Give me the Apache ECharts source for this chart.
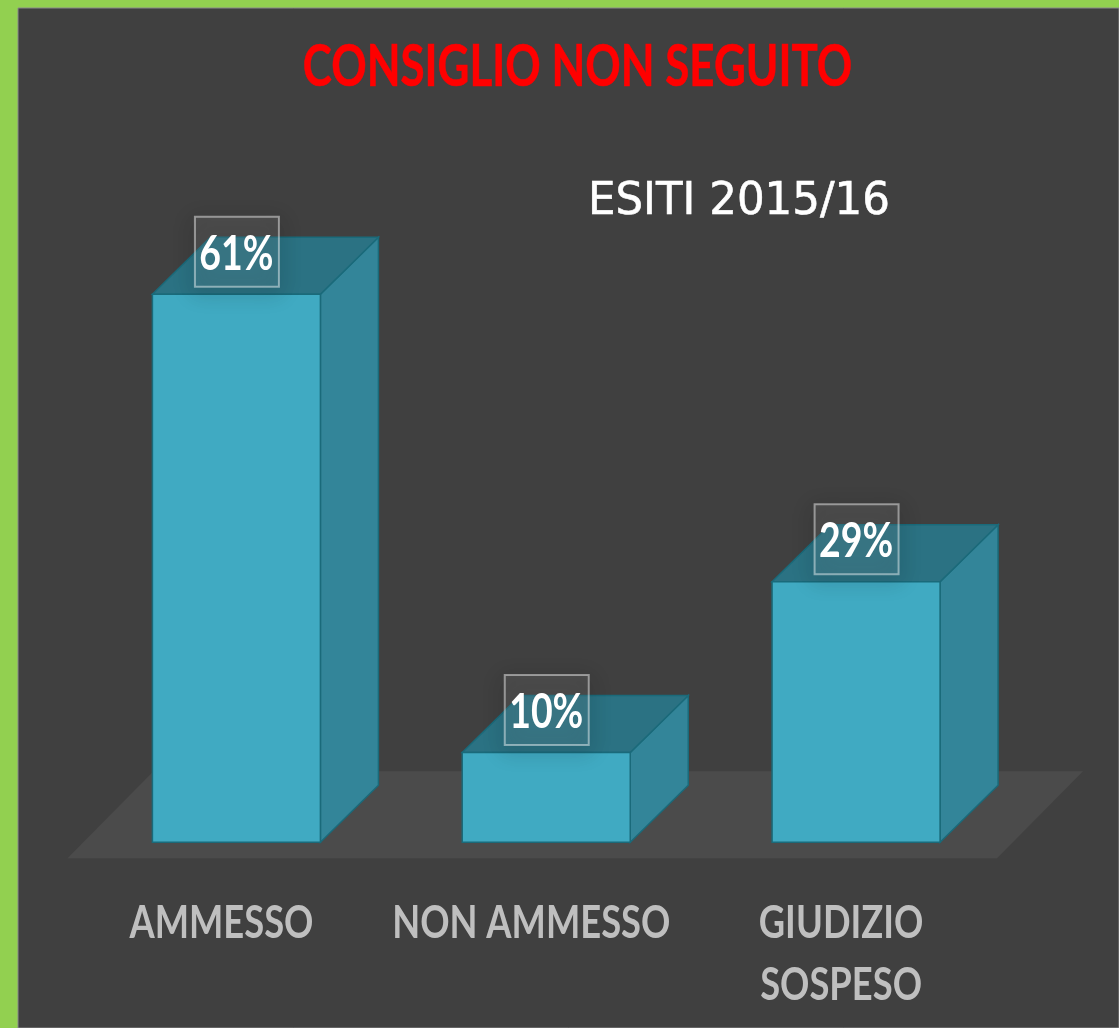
<!DOCTYPE html>
<html><head><meta charset="utf-8">
<style>html,body{margin:0;padding:0;background:#92d050;}#c{position:absolute;left:0;top:0;width:1119px;height:1028px;}</style>
<script src="https://cdn.jsdelivr.net/npm/echarts@6/dist/echarts.min.js"></script>
</head><body><div id="c"></div>
<script>
var categories = ['AMMESSO', 'NON AMMESSO', 'GIUDIZIO\nSOSPESO'];
var percentValues = [61, 10, 29];
var titleText = 'CONSIGLIO NON SEGUITO';
var subtitleText = 'ESITI 2015/16';

var chart = echarts.init(document.getElementById('c'), null, {renderer: 'canvas', width: 1119, height: 1028});
var DX = 58, DY = 57, BAR = 168;

function renderBar(params, api) {
  var idx = api.value(0), val = api.value(1);
  var top = api.coord([idx, val]);
  var base = api.coord([idx, 0]);
  var l = top[0] - BAR / 2, r = top[0] + BAR / 2, t = top[1], b = base[1];
  var edge = {stroke: '#1a6a7a', lineWidth: 1.5};
  var bx = l + 42, by = t - 78;
  return {
    type: 'group',
    children: [
      {type: 'polygon', shape: {points: [[r, t], [r + DX, t - DY], [r + DX, b - DY], [r, b]]},
        style: Object.assign({fill: '#338599'}, edge)},
      {type: 'polygon', shape: {points: [[l, t], [l + DX, t - DY], [r + DX, t - DY], [r, t]]},
        style: Object.assign({fill: '#2b7283'}, edge)},
      {type: 'rect', shape: {x: l, y: t, width: BAR, height: b - t},
        style: Object.assign({fill: '#40aac2'}, edge)},
      {type: 'rect', shape: {x: bx + 0.5, y: by + 0.5, width: 84, height: 70},
        style: {fill: 'rgba(255,255,255,0.08)', stroke: 'rgba(255,255,255,0.45)', lineWidth: 2,
                shadowBlur: 20, shadowColor: 'rgba(0,0,0,1)', shadowOffsetY: 5}},
      {type: 'text', x: bx + 42, y: by + 38, scaleX: 0.78,
        style: {text: val + '%', fill: '#ffffff', font: 'bold 48px "Lato"', align: 'center', verticalAlign: 'middle'}}
    ]
  };
}

function renderFloor(params, api) {
  var first = api.coord([0, 0]);
  var step = api.size([1, 0])[0];
  var y = first[1];
  var x0 = first[0] - step / 2;
  return {
    type: 'polygon',
    shape: {points: [[x0 - 14, y + 16], [x0 + 3 * step - 14, y + 16], [x0 + 3 * step + 72, y - 71], [x0 + 72, y - 71]]},
    style: {fill: '#4b4b4b'}
  };
}

chart.setOption({
  animation: false,
  backgroundColor: '#92d050',
  graphic: [
    {type: 'rect', z: -10, shape: {x: 18, y: 8, width: 1101, height: 1020}, style: {fill: '#404040', stroke: '#8a8a8a', lineWidth: 1}},
    {type: 'text', z: 10, x: 588, y: 202, scaleX: 0.967, style: {text: subtitleText, fill: '#ffffff', stroke: '#ffffff', lineWidth: 0.6, font: '45px "DejaVu Sans"', verticalAlign: 'middle'}}
  ],
  grid: {left: 81.5, width: 929.5, top: 213.4, height: 628.9},
  xAxis: {type: 'category', data: categories,
    axisLine: {show: false}, axisTick: {show: false}, splitLine: {show: false},
    axisLabel: {show: false}},
  yAxis: {type: 'value', min: 0, max: 70, show: false, splitLine: {show: false}},
  series: [
    {type: 'custom', silent: true, z: 1, clip: false, coordinateSystem: 'cartesian2d', data: [[0, 0]], renderItem: renderFloor},
    {type: 'custom', silent: true, z: 2, clip: false, encode: {x: 0, y: 1},
      data: percentValues.map(function (v, i) { return [i, v]; }), renderItem: renderBar},
    {type: 'custom', silent: true, z: 3, clip: false, encode: {x: 0, y: 1},
      data: categories.map(function (c, i) { return [i, 0]; }),
      renderItem: function (params, api) {
        var p = api.coord([api.value(0), 0]);
        return {type: 'text', x: p[0] - 15, y: p[1] + 50, scaleX: 0.79,
          style: {text: categories[params.dataIndex], fill: '#bfbfbf', font: 'bold 46px "Lato"', align: 'center', verticalAlign: 'top', lineHeight: 62}};
      }},
    {type: 'custom', silent: true, z: 3, clip: false, encode: {x: 0, y: 1}, data: [[0, 0]],
      renderItem: function () {
        return {type: 'text', x: 577.5, y: 67, scaleX: 0.757,
          style: {text: titleText, fill: '#ff0000', stroke: '#ff0000', lineWidth: 0.6, font: 'bold 58px "Lato"', align: 'center', verticalAlign: 'middle'}};
      }}
  ]
});
</script></body></html>
